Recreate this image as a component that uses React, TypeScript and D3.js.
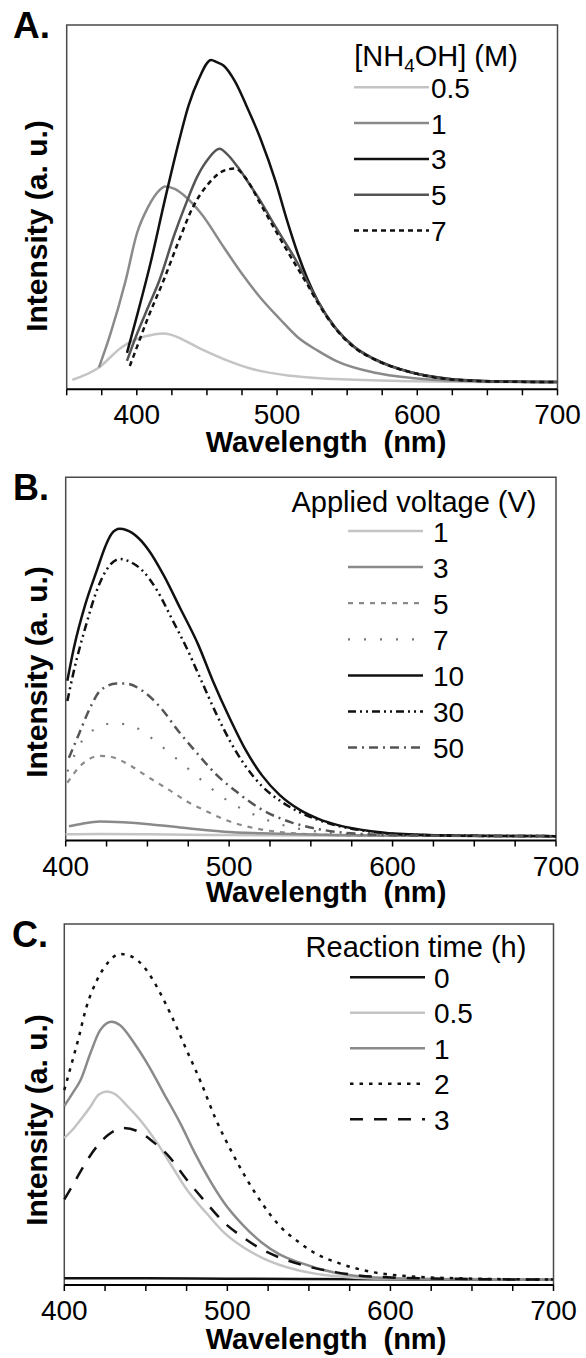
import React from "react";
import * as d3 from "d3";

type Pt = [number, number];

// ---------- Panel A: [NH4OH] (M) ----------
const ticksA = [350, 375, 400, 425, 450, 475, 500, 525, 550, 575, 600, 625, 650, 675, 700];
const ticksBC = [400, 425, 450, 475, 500, 525, 550, 575, 600, 625, 650, 675, 700];
const tickLabels = [400, 500, 600, 700];

const legendA = ["0.5", "1", "3", "5", "7"];
const a05: Pt[] = [[354, 2.6], [373, 6], [389, 11.5], [400, 13.8], [413, 15.1], [419, 15.3], [424, 15], [432, 13.8], [446, 11], [462, 8.3], [483, 5.5], [510, 3.7], [542, 2.8], [596, 2.2], [650, 2.0], [700, 2.0]];
const a1: Pt[] = [[373, 6], [381, 15], [392, 29.8], [400, 42.7], [408, 50], [416, 54.6], [420, 55.7], [427, 55], [435, 52.8], [446, 48.2], [462, 39], [475, 31.7], [488, 25.2], [502, 19.3], [515, 14.2], [529, 10.6], [542, 7.8], [569, 4.6], [596, 3.1], [622, 2.4], [660, 2.1], [700, 2.0]];
const a3: Pt[] = [[393, 10], [400, 20], [410, 35], [420, 52], [430, 68], [437, 78], [444, 85], [453, 90.4], [457, 89.8], [462, 88.8], [470, 84.5], [478, 78], [488, 69], [499, 57], [507, 46.5], [515, 37], [522, 30], [529, 24.3], [542, 16.7], [555, 11.7], [569, 8.4], [596, 4.6], [622, 2.9], [649, 2.3], [700, 2.0]];
const a5: Pt[] = [[393, 7.8], [400, 15.1], [408, 22.5], [416, 29.8], [427, 42.7], [435, 50.9], [443, 58.3], [451, 63.3], [459, 66], [464, 64.7], [472, 61], [480, 56.5], [488, 51.8], [496, 46.5], [505, 40.8], [515, 34.4], [522, 29.2], [529, 24.2], [542, 16.6], [555, 11.6], [569, 8.3], [596, 4.6], [622, 2.8], [660, 2.1], [700, 2.0]];
const a7: Pt[] = [[395, 6.4], [400, 11.5], [408, 19.7], [419, 29.8], [430, 40.8], [440, 50], [451, 56.4], [462, 60], [470, 60.6], [478, 57.8], [488, 51], [502, 41.5], [515, 33], [522, 28.5], [529, 23.8], [542, 16.5], [555, 11.5], [569, 8.3], [596, 4.6], [622, 2.8], [660, 2.1], [700, 2.0]];

// ---------- Panel B: Applied voltage (V) ----------
const legendB = ["1", "3", "5", "7", "10", "30", "50"];
const b1: Pt[] = [[400, 1.7], [420, 1.8], [450, 1.7], [500, 1.5], [600, 1.3], [700, 1.2]];
const b3: Pt[] = [[402, 3.9], [410, 4.6], [421, 5.2], [435, 5.0], [451, 4.5], [470, 3.6], [482, 3.0], [497, 2.4], [520, 2.0], [537, 1.8], [588, 1.4], [700, 1.2]];
const b5: Pt[] = [[401, 15.9], [410, 21], [421, 23.3], [428, 23], [440, 20.5], [451, 17.3], [463, 14], [474, 10.8], [486, 8.1], [497, 5.8], [508, 4.2], [520, 3.0], [543, 1.9], [566, 1.5], [588, 1.3], [700, 1.2]];
const b7: Pt[] = [[401, 19], [410, 27.4], [419, 31], [428, 32.2], [437, 32], [447, 30.1], [456, 26.9], [467, 22.8], [479, 18.2], [490, 14], [501, 10.4], [513, 7.6], [524, 5.5], [543, 3.2], [566, 2.0], [588, 1.5], [700, 1.2]];
const b10: Pt[] = [[401, 44], [405, 53], [412, 65], [419, 74.3], [424, 80.7], [428, 84.4], [433, 85.8], [437, 85.5], [444, 83.5], [451, 79.8], [460, 73], [470, 64], [481, 54], [490, 44], [500, 34], [510, 25], [520, 18], [531, 12.5], [543, 8.5], [555, 5.9], [566, 4.3], [588, 2.5], [610, 1.7], [646, 1.3], [700, 1.2]];
const b30: Pt[] = [[401, 38.4], [405, 46.7], [412, 58.6], [419, 68.8], [426, 75.2], [433, 77.5], [440, 76.6], [447, 74.3], [456, 68.8], [465, 61], [474, 53], [483, 44], [492, 35], [501, 27], [510, 20.5], [520, 15], [531, 11], [543, 7.8], [555, 5.6], [566, 4.1], [588, 2.4], [610, 1.6], [646, 1.3], [700, 1.2]];
const b50: Pt[] = [[402, 22.8], [408, 29.2], [415, 36.6], [421, 41.2], [431, 43.2], [437, 43.2], [447, 41.2], [458, 36.6], [469, 30.1], [481, 23.7], [492, 18.2], [504, 13.6], [520, 8.5], [538, 5.0], [554, 3.2], [577, 1.9], [611, 1.4], [700, 1.2]];

// ---------- Panel C: Reaction time (h) ----------
const legendC = ["0", "0.5", "1", "2", "3"];
const c0: Pt[] = [[400, 1.9], [450, 1.85], [500, 1.75], [600, 1.6], [700, 1.5]];
const c05: Pt[] = [[400, 40.7], [405, 43], [410, 45.8], [416, 49.4], [421, 52.7], [426, 53.6], [431, 52.9], [439, 49.4], [448, 44.9], [457, 39.3], [466, 32.9], [475, 26.5], [487, 20], [498, 14.5], [510, 10.4], [521, 7.6], [544, 4], [567, 2.4], [590, 1.8], [700, 1.5]];
const c1: Pt[] = [[400, 49.6], [405, 53.1], [410, 56.8], [416, 64.2], [422, 70.6], [429, 72.9], [434, 72], [443, 66.9], [452, 60.5], [461, 53.1], [471, 44.9], [480, 36.6], [489, 29.2], [498, 22.8], [510, 16.4], [521, 11.8], [532, 8.5], [544, 6.25], [567, 3.3], [590, 2.1], [640, 1.6], [700, 1.5]];
const c2: Pt[] = [[400, 54], [404, 60.5], [409, 68.8], [413, 76.1], [420, 84.4], [427, 89.4], [434, 91.7], [438, 91.5], [445, 89.9], [452, 86.2], [459, 80.7], [466, 74.3], [475, 65.1], [484, 55.9], [493, 45.8], [503, 36.6], [512, 29.2], [521, 22.8], [532, 16.4], [544, 11.8], [555, 8.5], [567, 6.25], [590, 3.5], [612, 2.4], [647, 1.8], [700, 1.5]];
const c3: Pt[] = [[400, 23.7], [406, 28.3], [413, 33.8], [420, 38.4], [427, 41.6], [436, 43.5], [445, 42.6], [454, 39.8], [464, 35.7], [475, 29.2], [487, 22.8], [498, 17.3], [510, 13.1], [521, 9.9], [532, 7.6], [544, 5.8], [567, 3.5], [590, 2.3], [640, 1.7], [700, 1.5]];

type Style = { color: string; width: number; dash?: string };

const LIGHT = "#c4c4c4";
const MID = "#8a8a8a";
const DARK = "#555555";
const BLACK = "#111111";

type PanelCfg = {
  letter: string;
  letterX: number;
  letterY: number;
  letterSize: number;
  left: number;
  right: number;
  top: number;
  axisY: number;
  domain: [number, number];
  ticks: number[];
  yTitleY: number;
  xTitleY: number;
  legendTitle: React.ReactNode;
  legendTitleX: number;
  legendTitleY: number;
  legendLineX0: number;
  legendLineX1: number;
  legendY0: number;
  legendStep: number;
  legendLabelX: number;
  names: string[];
  data: Pt[][];
  styles: Style[];
};

const FONT = "'Liberation Sans', Arial, Helvetica, sans-serif";

const panels: PanelCfg[] = [
  {
    letter: "A.", letterX: 13, letterY: 38, letterSize: 37,
    left: 66.7, right: 557.5, top: 25, axisY: 389.3,
    domain: [350, 700], ticks: ticksA,
    yTitleY: 226, xTitleY: 452,
    legendTitle: (
      <>
        <tspan>[NH</tspan>
        <tspan dy={6} fontSize={19}>4</tspan>
        <tspan dy={-6}>OH] (M)</tspan>
      </>
    ),
    legendTitleX: 436, legendTitleY: 66,
    legendLineX0: 354, legendLineX1: 429, legendY0: 87.3, legendStep: 35.8, legendLabelX: 431,
    names: legendA, data: [a05, a1, a3, a5, a7],
    styles: [
      { color: LIGHT, width: 2.5 },
      { color: MID, width: 2.5 },
      { color: BLACK, width: 2.5 },
      { color: DARK, width: 2.5 },
      { color: BLACK, width: 2.5, dash: "5,4" },
    ],
  },
  {
    letter: "B.", letterX: 13, letterY: 500, letterSize: 36,
    left: 65.7, right: 556, top: 477.3, axisY: 840.5,
    domain: [400, 700], ticks: ticksBC,
    yTitleY: 672, xTitleY: 902,
    legendTitle: <tspan>Applied voltage (V)</tspan>,
    legendTitleX: 414, legendTitleY: 511.7,
    legendLineX0: 348, legendLineX1: 423, legendY0: 531, legendStep: 36.1, legendLabelX: 433,
    names: legendB, data: [b1, b3, b5, b7, b10, b30, b50],
    styles: [
      { color: LIGHT, width: 2.5 },
      { color: MID, width: 2.5 },
      { color: MID, width: 2.2, dash: "5,6" },
      { color: "#777777", width: 2.2, dash: "2,14" },
      { color: BLACK, width: 2.5 },
      { color: BLACK, width: 2.5, dash: "8,4,2,4,2,4" },
      { color: DARK, width: 2.5, dash: "9,5,2,5" },
    ],
  },
  {
    letter: "C.", letterX: 12, letterY: 946.7, letterSize: 36,
    left: 64.3, right: 553.5, top: 924, axisY: 1285,
    domain: [400, 700], ticks: ticksBC,
    yTitleY: 1120, xTitleY: 1349,
    legendTitle: <tspan>Reaction time (h)</tspan>,
    legendTitleX: 416, legendTitleY: 956.7,
    legendLineX0: 350, legendLineX1: 425, legendY0: 977.3, legendStep: 35.5, legendLabelX: 434,
    names: legendC, data: [c0, c05, c1, c2, c3],
    styles: [
      { color: BLACK, width: 2.5 },
      { color: LIGHT, width: 2.5 },
      { color: MID, width: 2.5 },
      { color: BLACK, width: 2.5, dash: "3.5,6" },
      { color: BLACK, width: 2.5, dash: "13,11" },
    ],
  },
];

function Panel({ p }: { p: PanelCfg }) {
  const x = d3.scaleLinear().domain(p.domain).range([p.left, p.right]);
  const y = d3.scaleLinear().domain([0, 100]).range([p.axisY, p.top]);
  const line = d3
    .line<Pt>()
    .x((d) => x(d[0]))
    .y((d) => y(d[1]))
    .curve(d3.curveMonotoneX);
  const xMid = 326;
  return (
    <g fontFamily={FONT}>
      {/* frame */}
      <path
        d={`M${p.left},${p.axisY} V${p.top} H${p.right} V${p.axisY}`}
        fill="none"
        stroke="#4a4a4a"
        strokeWidth={1.5}
      />
      {/* curves */}
      {p.data.map((d, i) => (
        <path
          key={i}
          d={line(d) || ""}
          fill="none"
          stroke={p.styles[i].color}
          strokeWidth={p.styles[i].width}
          strokeDasharray={p.styles[i].dash}
          strokeLinejoin="round"
        />
      ))}
      {/* x axis */}
      <line x1={p.left} x2={p.right} y1={p.axisY} y2={p.axisY} stroke="#000" strokeWidth={2} />
      {p.ticks.map((t) => (
        <line key={t} x1={x(t)} x2={x(t)} y1={p.axisY} y2={p.axisY + 6} stroke="#000" strokeWidth={1.5} />
      ))}
      {tickLabels.map((t) => (
        <text key={t} x={x(t)} y={p.axisY + 35} fontSize={28} textAnchor="middle" fill="#000">
          {t}
        </text>
      ))}
      <text
        x={xMid}
        y={p.xTitleY}
        fontSize={29}
        fontWeight="bold"
        textAnchor="middle"
        fill="#000"
        style={{ whiteSpace: "pre" }}
      >
        {"Wavelength  (nm)"}
      </text>
      <text
        transform={`translate(47,${p.yTitleY}) rotate(-90)`}
        fontSize={30}
        fontWeight="bold"
        textAnchor="middle"
        fill="#000"
      >
        Intensity (a. u.)
      </text>
      <text x={p.letterX} y={p.letterY} fontSize={p.letterSize} fontWeight="bold" fill="#000">
        {p.letter}
      </text>
      {/* legend */}
      <text x={p.legendTitleX} y={p.legendTitleY} fontSize={29} textAnchor="middle" fill="#000">
        {p.legendTitle}
      </text>
      {p.names.map((n, i) => {
        const ly = p.legendY0 + i * p.legendStep;
        const s = p.styles[i];
        return (
          <g key={n}>
            <line
              x1={p.legendLineX0}
              x2={p.legendLineX1}
              y1={ly}
              y2={ly}
              stroke={s.color}
              strokeWidth={s.width}
              strokeDasharray={s.dash}
            />
            <text x={p.legendLabelX} y={ly + 10.5} fontSize={28} fill="#000">
              {n}
            </text>
          </g>
        );
      })}
    </g>
  );
}

export default function App() {
  return (
    <svg
      width={586}
      height={1358}
      viewBox="0 0 586 1358"
      style={{ position: "absolute", left: 0, top: 0, background: "#fff" }}
    >
      <rect x={0} y={0} width={586} height={1358} fill="#fff" />
      {panels.map((p) => (
        <Panel key={p.letter} p={p} />
      ))}
    </svg>
  );
}
